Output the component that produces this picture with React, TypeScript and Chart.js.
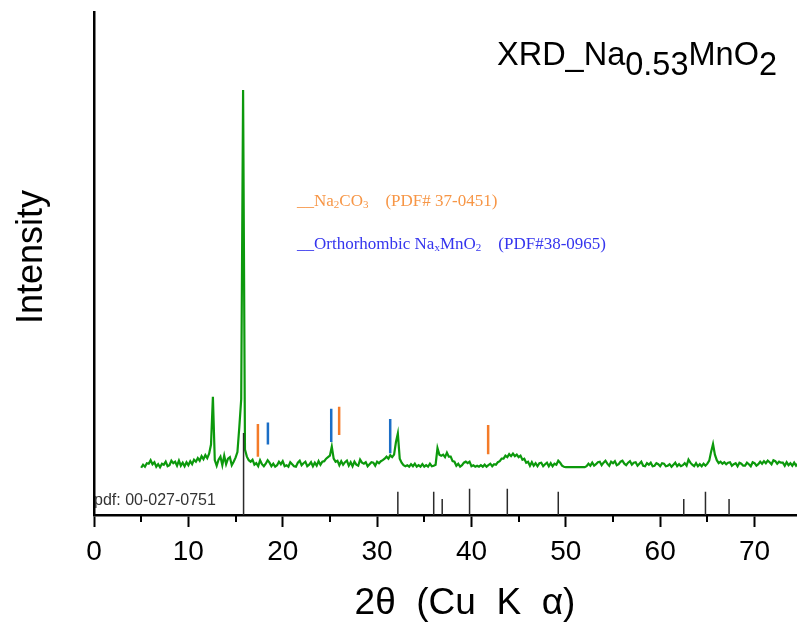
import React, { useEffect, useRef } from 'react';
import { Chart, registerables } from 'chart.js';

Chart.register(...registerables);

// XRD scan: 2θ from scanStart in steps of scanStep
const scanStart = 5.0;
const scanStep = 0.2;
const intensity = [
  9.4, 10.0, 9.6, 10.3, 10.2, 10.9, 10.1, 10.5, 9.6, 10.1,
  9.5, 10.2, 10.0, 10.6, 9.7, 9.9, 10.8, 10.3, 10.6, 9.8,
  10.8, 9.8, 10.4, 9.7, 10.5, 9.9, 10.7, 10.1, 11.0, 10.6,
  11.3, 10.8, 11.7, 11.1, 11.9, 11.3, 12.2, 14.0, 23.5, 10.9,
  9.8, 11.0, 11.6, 9.9, 11.8, 10.1, 11.2, 11.5, 9.9, 10.6,
  11.4, 12.5, 17.5, 23.0, 84.5, 13.0, 11.6, 10.9, 10.6, 11.0,
  10.0, 10.3, 9.7, 10.9, 10.1, 9.7, 10.2, 10.9, 10.4, 9.7,
  10.2, 9.6, 9.9, 10.6, 10.1, 10.7, 9.7, 9.9, 9.6, 10.5,
  10.1, 9.7, 9.6, 10.4, 10.8, 9.9, 10.3, 10.6, 9.7, 10.0,
  10.5, 9.7, 10.4, 9.8, 10.7, 10.0, 10.6, 10.7, 11.2, 11.5,
  11.8, 13.6, 11.2, 10.6, 10.8, 9.9, 10.7, 10.0, 10.5, 10.8,
  9.8, 10.5, 9.7, 10.6, 10.0, 9.8, 11.0, 10.4, 10.2, 10.5,
  9.7, 10.1, 10.5, 10.4, 9.8, 10.6, 10.3, 10.7, 10.9, 11.2,
  11.6, 11.2, 11.9, 11.5, 12.0, 14.5, 16.2, 11.2, 10.4, 9.9,
  9.7, 9.9, 9.6, 10.1, 9.7, 10.2, 9.6, 9.9, 9.6, 10.1,
  9.6, 9.9, 9.6, 10.2, 9.7, 9.8, 10.0, 13.3, 12.0, 11.8,
  12.0, 11.5, 12.4, 11.6, 11.6, 10.7, 10.6, 9.8, 10.2, 9.6,
  9.9, 10.4, 10.6, 10.3, 10.6, 9.7, 9.9, 9.6, 9.8, 9.6,
  9.9, 9.6, 10.0, 9.6, 9.9, 10.2, 9.7, 10.1, 10.0, 10.5,
  10.7, 11.2, 11.2, 11.8, 11.5, 12.1, 11.7, 12.2, 11.7, 12.0,
  11.5, 11.8, 11.0, 11.2, 10.4, 10.6, 9.8, 10.5, 9.8, 10.3,
  9.7, 10.3, 10.4, 9.7, 10.1, 10.4, 9.7, 10.3, 9.7, 10.2,
  10.0, 10.8, 10.4, 9.8, 9.6, 9.5, 9.5, 9.5, 9.5, 9.5,
  9.5, 9.5, 9.5, 9.5, 9.5, 9.5, 9.7, 10.2, 9.8, 10.4,
  9.8, 10.1, 10.5, 10.6, 9.9, 10.4, 10.8, 10.2, 9.8, 10.6,
  10.3, 10.7, 9.9, 10.1, 10.6, 10.8, 10.2, 9.9, 10.4, 10.7,
  10.0, 10.4, 10.5, 9.8, 10.2, 10.6, 9.8, 9.7, 10.3, 10.0,
  10.4, 9.7, 9.8, 10.3, 10.1, 9.7, 10.3, 10.2, 9.7, 9.8,
  10.1, 9.6, 10.0, 10.4, 9.7, 10.1, 9.7, 9.9, 10.3, 9.8,
  11.0, 10.4, 10.0, 9.7, 10.3, 9.7, 10.1, 9.7, 10.2, 9.8,
  10.2, 10.8, 12.6, 14.1, 12.0, 10.9, 10.3, 10.6, 10.2, 10.5,
  10.1, 10.4, 10.5, 9.8, 10.1, 10.3, 9.7, 10.4, 10.2, 9.8,
  9.8, 10.4, 10.1, 9.7, 10.5, 10.3, 9.8, 10.1, 10.6, 10.2,
  10.7, 10.3, 10.8, 10.5, 10.1, 10.9, 10.7, 10.2, 10.6, 10.4,
  10.4, 9.8, 10.5, 9.9, 10.3, 9.8, 10.4, 9.8, 10.2,
];

// Reference pattern pdf: 00-027-0751 (stick positions / heights)
const pdfPositions = [15.85, 32.2, 36.0, 36.9, 39.8, 43.8, 49.2, 62.5, 64.8, 67.3];
const pdfHeights = [16.3, 4.6, 4.6, 3.2, 5.2, 5.2, 4.6, 3.2, 4.6, 3.2];

// Phase markers
const na2co3Positions = [17.37, 25.98, 41.77];
const na2co3Low = [11.6, 15.9, 12.1];
const na2co3High = [18.1, 21.5, 17.9];
const naxmno2Positions = [18.43, 25.14, 31.39];
const naxmno2Low = [14.0, 14.5, 12.3];
const naxmno2High = [18.4, 21.1, 19.1];

const xMajorTicks = [0, 10, 20, 30, 40, 50, 60, 70];
const xMinorTicks = [5, 15, 25, 35, 45, 55, 65];

const SANS = '"Liberation Sans", Arial, sans-serif';
const SERIF = '"Liberation Serif", "DejaVu Serif", serif';

function segments(pos: number[], low: number[], high: number[]) {
  const out: any[] = [];
  pos.forEach((p, i) => {
    out.push({ x: p, y: low[i] }, { x: p, y: high[i] }, { x: p, y: null });
  });
  return out;
}

type Run = [string, boolean];
function drawRuns(
  ctx: CanvasRenderingContext2D,
  x: number,
  y: number,
  runs: Run[],
  font: string,
  subFont: string,
  subOffset: number,
  color: string
) {
  ctx.fillStyle = color;
  ctx.textBaseline = 'alphabetic';
  ctx.textAlign = 'left';
  let cx = x;
  runs.forEach(([t, sub]) => {
    ctx.font = sub ? subFont : font;
    ctx.fillText(t, cx, sub ? y + subOffset : y);
    cx += ctx.measureText(t).width;
  });
}

const annotations = {
  id: 'annotations',
  afterDraw(chart: any) {
    const ctx: CanvasRenderingContext2D = chart.ctx;
    const xs = chart.scales.x;
    ctx.save();
    // minor ticks
    ctx.strokeStyle = '#000';
    ctx.lineWidth = 2;
    xMinorTicks.forEach((v) => {
      const px = Math.round(xs.getPixelForValue(v));
      ctx.beginPath();
      ctx.moveTo(px, xs.top);
      ctx.lineTo(px, xs.top + 7);
      ctx.stroke();
    });
    // axis titles
    ctx.fillStyle = '#000';
    ctx.font = `37px ${SANS}`;
    ctx.textAlign = 'center';
    ctx.textBaseline = 'middle';
    ctx.fillText('2θ  (Cu  K  α)', 465, 604);
    ctx.font = `36px ${SANS}`;
    ctx.save();
    ctx.translate(32, 257);
    ctx.rotate(-Math.PI / 2);
    ctx.fillText('Intensity', 0, 0);
    ctx.restore();
    // title
    drawRuns(
      ctx, 497, 65,
      [['XRD_Na', false], ['0.53', true], ['MnO', false], ['2', true]],
      `32.5px ${SANS}`, `32.5px ${SANS}`, 10, '#000'
    );
    // legend
    drawRuns(
      ctx, 297, 206,
      [['__Na', false], ['2', true], ['CO', false], ['3', true], ['    (PDF# 37-0451)', false]],
      `17px ${SERIF}`, `11px ${SERIF}`, 2, '#F79646'
    );
    drawRuns(
      ctx, 297, 249,
      [['__Orthorhombic Na', false], ['x', true], ['MnO', false], ['2', true], ['    (PDF#38-0965)', false]],
      `17px ${SERIF}`, `11px ${SERIF}`, 2, '#3535EE'
    );
    // pdf label
    ctx.font = `16px ${SANS}`;
    ctx.fillStyle = '#333';
    ctx.textAlign = 'left';
    ctx.textBaseline = 'alphabetic';
    ctx.fillText('pdf: 00-027-0751', 94, 505);
    ctx.restore();
  },
};

export default function App() {
  const ref = useRef<HTMLCanvasElement>(null);
  useEffect(() => {
    if (!ref.current) return;
    const curve = intensity.map((v, i) => ({ x: +(scanStart + i * scanStep).toFixed(2), y: v }));
    const pdfData = segments(pdfPositions, pdfPositions.map(() => 0), pdfHeights);
    const chart = new Chart(ref.current, {
      type: 'line',
      data: {
        datasets: [
          {
            label: 'pdf: 00-027-0751',
            data: pdfData,
            borderColor: '#2b2b2b',
            borderWidth: 1.5,
            pointRadius: 0,
            spanGaps: false,
          },
          {
            label: 'Na2CO3',
            data: segments(na2co3Positions, na2co3Low, na2co3High),
            borderColor: '#F47B28',
            borderWidth: 2.5,
            pointRadius: 0,
            spanGaps: false,
          },
          {
            label: 'NaxMnO2',
            data: segments(naxmno2Positions, naxmno2Low, naxmno2High),
            borderColor: '#1B6EC6',
            borderWidth: 2.5,
            pointRadius: 0,
            spanGaps: false,
          },
          {
            label: 'XRD',
            data: curve,
            borderColor: '#0C990C',
            borderWidth: 2.2,
            pointRadius: 0,
            tension: 0,
          },
        ],
      },
      options: {
        animation: false,
        responsive: false,
        layout: { padding: { top: 12, right: 0, left: 0, bottom: 0 } },
        plugins: { legend: { display: false }, tooltip: { enabled: false }, title: { display: false } },
        scales: {
          x: {
            type: 'linear',
            min: 0,
            max: 74.5,
            afterBuildTicks: (s: any) => {
              s.ticks = xMajorTicks.map((v) => ({ value: v }));
            },
            afterFit: (s: any) => {
              s.height = 111;
            },
            ticks: {
              font: { family: SANS, size: 28 },
              color: '#000',
              padding: 8,
              maxRotation: 0,
              autoSkip: false,
            },
            grid: {
              display: true,
              drawOnChartArea: false,
              drawTicks: true,
              tickLength: 12,
              tickWidth: 2,
              tickColor: '#000',
            },
            border: { display: true, color: '#000', width: 2.5 },
          },
          y: {
            min: 0,
            max: 100,
            afterFit: (s: any) => {
              s.width = 94;
            },
            ticks: { display: false },
            grid: { display: false, drawTicks: false },
            border: { display: true, color: '#000', width: 2.5 },
          },
        },
      },
      plugins: [annotations],
    });
    return () => chart.destroy();
  }, []);
  return (
    <div style={{ position: 'fixed', left: 0, top: 0, width: 797, height: 626, background: '#fff' }}>
      <canvas ref={ref} width={797} height={626} style={{ width: 797, height: 626, display: 'block' }} />
    </div>
  );
}
